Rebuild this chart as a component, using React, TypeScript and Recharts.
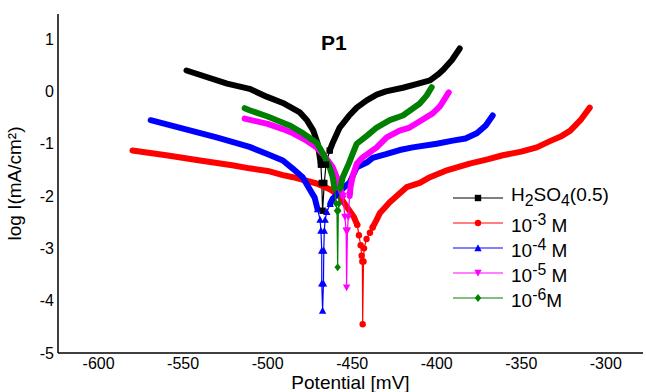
import React from 'react';
import { LineChart, Line, XAxis, YAxis } from 'recharts';

type Pt = { x: number; y: number };

// H2SO4 0.5 M blank
const blankCathodic: Pt[] = [
  { x: -548, y: 0.4 }, { x: -524, y: 0.15 }, { x: -510.7, y: 0.05 }, { x: -500.6, y: -0.1 },
  { x: -491, y: -0.22 }, { x: -481, y: -0.4 }, { x: -477, y: -0.54 }, { x: -473, y: -0.75 },
  { x: -470.4, y: -1.0 }, { x: -468.5, y: -1.4 },
];
const blankTip: Pt[] = [
  { x: -468.5, y: -1.4 }, { x: -468, y: -1.75 }, { x: -467.5, y: -2.28 }, { x: -466.5, y: -1.75 },
  { x: -465.5, y: -1.4 }, { x: -463.3, y: -1.13 },
];
const blankAnodic: Pt[] = [
  { x: -463.3, y: -1.13 }, { x: -461.5, y: -0.98 }, { x: -457.4, y: -0.69 }, { x: -452, y: -0.47 },
  { x: -447.3, y: -0.31 }, { x: -441.4, y: -0.17 }, { x: -435.5, y: -0.06 }, { x: -430, y: 0.0 },
  { x: -420, y: 0.07 }, { x: -412, y: 0.14 }, { x: -404, y: 0.21 }, { x: -399.4, y: 0.32 },
  { x: -396, y: 0.42 }, { x: -391, y: 0.6 }, { x: -386.4, y: 0.82 },
];

// 10^-3 M
const m3Cathodic: Pt[] = [
  { x: -580, y: -1.13 }, { x: -560, y: -1.22 }, { x: -540, y: -1.32 }, { x: -521, y: -1.41 },
  { x: -510.7, y: -1.47 }, { x: -500, y: -1.52 }, { x: -491, y: -1.6 }, { x: -485, y: -1.64 },
  { x: -471, y: -1.76 }, { x: -463.3, y: -1.87 }, { x: -458, y: -1.98 }, { x: -453.3, y: -2.2 },
  { x: -449, y: -2.4 }, { x: -447, y: -2.55 },
];
const m3Tip: Pt[] = [
  { x: -447, y: -2.55 }, { x: -446, y: -2.75 }, { x: -445, y: -2.94 }, { x: -444.4, y: -3.14 },
  { x: -444, y: -3.25 }, { x: -443.8, y: -4.45 }, { x: -443.3, y: -3.25 }, { x: -443, y: -3.0 },
  { x: -441.5, y: -2.82 }, { x: -439.5, y: -2.7 }, { x: -437.9, y: -2.6 },
];
const m3Anodic: Pt[] = [
  { x: -437.9, y: -2.6 }, { x: -435.5, y: -2.45 }, { x: -433.7, y: -2.33 }, { x: -427.8, y: -2.12 },
  { x: -422, y: -1.95 }, { x: -417.8, y: -1.83 }, { x: -410, y: -1.75 }, { x: -404, y: -1.64 },
  { x: -395, y: -1.52 }, { x: -388, y: -1.45 }, { x: -380.5, y: -1.38 }, { x: -370, y: -1.3 },
  { x: -360.9, y: -1.22 }, { x: -350, y: -1.15 }, { x: -340.8, y: -1.07 }, { x: -333, y: -0.95 },
  { x: -326, y: -0.85 }, { x: -321, y: -0.75 }, { x: -315, y: -0.55 }, { x: -309.5, y: -0.31 },
];

// 10^-4 M
const m4Cathodic: Pt[] = [
  { x: -569.2, y: -0.55 }, { x: -550, y: -0.71 }, { x: -530.2, y: -0.88 }, { x: -510.7, y: -1.06 },
  { x: -500.6, y: -1.19 }, { x: -491, y: -1.32 }, { x: -485, y: -1.48 }, { x: -479.3, y: -1.64 },
  { x: -475.5, y: -1.85 }, { x: -472.2, y: -2.03 }, { x: -470.5, y: -2.25 },
];
const m4Tip: Pt[] = [
  { x: -470.5, y: -2.25 }, { x: -469, y: -2.45 }, { x: -468.5, y: -2.66 }, { x: -468, y: -3.04 },
  { x: -468, y: -3.67 }, { x: -467.5, y: -4.19 }, { x: -467, y: -3.67 }, { x: -466.8, y: -3.04 },
  { x: -466.5, y: -2.66 }, { x: -466, y: -2.45 }, { x: -465, y: -2.3 }, { x: -463, y: -2.15 },
];
const m4Anodic: Pt[] = [
  { x: -463, y: -2.15 }, { x: -461.5, y: -2.05 }, { x: -457, y: -1.9 }, { x: -451.5, y: -1.74 },
  { x: -447.3, y: -1.45 }, { x: -441.4, y: -1.36 }, { x: -437.9, y: -1.27 }, { x: -430, y: -1.2 },
  { x: -421.9, y: -1.12 }, { x: -414.2, y: -1.07 }, { x: -400, y: -1.0 }, { x: -390.5, y: -0.94 },
  { x: -383, y: -0.9 }, { x: -376.3, y: -0.8 }, { x: -371, y: -0.65 }, { x: -366.9, y: -0.46 },
];

// 10^-5 M
const m5Cathodic: Pt[] = [
  { x: -513.6, y: -0.52 }, { x: -500, y: -0.62 }, { x: -491, y: -0.72 }, { x: -485, y: -0.8 },
  { x: -478, y: -0.92 }, { x: -471, y: -1.07 }, { x: -466, y: -1.25 }, { x: -461.5, y: -1.45 },
  { x: -459, y: -1.65 }, { x: -457.4, y: -1.83 }, { x: -455.5, y: -2.0 },
];
const m5Tip: Pt[] = [
  { x: -455.5, y: -2.0 }, { x: -454.3, y: -2.4 }, { x: -453.6, y: -2.66 }, { x: -453.3, y: -3.75 },
  { x: -452.8, y: -2.66 }, { x: -452.3, y: -2.4 }, { x: -451.5, y: -2.0 },
];
const m5Anodic: Pt[] = [
  { x: -451.5, y: -2.0 }, { x: -451, y: -1.83 }, { x: -449.7, y: -1.62 }, { x: -447.3, y: -1.38 },
  { x: -443.8, y: -1.26 }, { x: -435.5, y: -1.07 }, { x: -429.6, y: -0.88 }, { x: -422, y: -0.75 },
  { x: -416, y: -0.69 }, { x: -409, y: -0.55 }, { x: -402.4, y: -0.42 }, { x: -398, y: -0.28 },
  { x: -392.9, y: -0.02 },
];

// 10^-6 M
const m6Cathodic: Pt[] = [
  { x: -513.6, y: -0.32 }, { x: -510.7, y: -0.36 }, { x: -500, y: -0.48 }, { x: -487, y: -0.65 },
  { x: -480, y: -0.78 }, { x: -471, y: -0.98 }, { x: -467, y: -1.2 }, { x: -463.3, y: -1.45 },
  { x: -461.5, y: -1.64 }, { x: -460.5, y: -1.85 },
];
const m6Tip: Pt[] = [
  { x: -460.5, y: -1.85 }, { x: -459.5, y: -2.14 }, { x: -459, y: -2.28 }, { x: -458.6, y: -3.36 },
  { x: -458.2, y: -2.28 }, { x: -457.8, y: -2.14 }, { x: -457, y: -1.85 },
];
const m6Anodic: Pt[] = [
  { x: -457, y: -1.85 }, { x: -455.6, y: -1.64 }, { x: -452, y: -1.38 }, { x: -449.7, y: -1.19 },
  { x: -447.3, y: -1.0 }, { x: -441, y: -0.84 }, { x: -435.5, y: -0.69 }, { x: -427.8, y: -0.55 },
  { x: -420, y: -0.46 }, { x: -410, y: -0.23 }, { x: -406, y: -0.08 }, { x: -403, y: 0.08 },
];

const xTicks = [-600, -550, -500, -450, -400, -350, -300];
const yTicks = [-5, -4, -3, -2, -1, 0, 1];

const FONT = '"Liberation Sans", Arial, sans-serif';

const SERIES = [
  { key: 'blank', color: '#000000', shape: 'square', cathodic: blankCathodic, tip: blankTip, anodic: blankAnodic },
  { key: 'm3', color: '#ff0000', shape: 'circle', cathodic: m3Cathodic, tip: m3Tip, anodic: m3Anodic },
  { key: 'm4', color: '#0000ff', shape: 'up', cathodic: m4Cathodic, tip: m4Tip, anodic: m4Anodic },
  { key: 'm5', color: '#ff00ff', shape: 'down', cathodic: m5Cathodic, tip: m5Tip, anodic: m5Anodic },
  { key: 'm6', color: '#008000', shape: 'diamond', cathodic: m6Cathodic, tip: m6Tip, anodic: m6Anodic },
];

function Marker({ cx, cy, shape, color, r = 3.2 }: any) {
  if (cx == null || cy == null) return null;
  if (shape === 'square')
    return <rect x={cx - r} y={cy - r} width={r * 2} height={r * 2} fill={color} />;
  if (shape === 'circle') return <circle cx={cx} cy={cy} r={r} fill={color} />;
  if (shape === 'up')
    return <polygon points={`${cx},${cy - r - 0.5} ${cx + r + 0.5},${cy + r} ${cx - r - 0.5},${cy + r}`} fill={color} />;
  if (shape === 'down')
    return <polygon points={`${cx},${cy + r + 0.5} ${cx + r + 0.5},${cy - r} ${cx - r - 0.5},${cy - r}`} fill={color} />;
  return <polygon points={`${cx},${cy - r - 0.8} ${cx + r},${cy} ${cx},${cy + r + 0.8} ${cx - r},${cy}`} fill={color} />;
}

const legendRows = [
  { shape: 'square', color: '#000000', label: <>H<sub>2</sub>SO<sub>4</sub>(0.5)</> },
  { shape: 'circle', color: '#ff0000', label: <>10<sup>-3</sup> M</> },
  { shape: 'up', color: '#0000ff', label: <>10<sup>-4</sup> M</> },
  { shape: 'down', color: '#ff00ff', label: <>10<sup>-5</sup> M</> },
  { shape: 'diamond', color: '#008000', label: <>10<sup>-6</sup>M</> },
];

export default function App() {
  return (
    <div style={{ position: 'fixed', left: 0, top: 0, width: 646, height: 392, background: '#fff', fontFamily: FONT }}>
      <LineChart width={646} height={392} margin={{ top: 14, right: 3, left: 0, bottom: 0 }}>
        <XAxis
          type="number"
          dataKey="x"
          domain={[-624, -278]}
          allowDataOverflow
          ticks={xTicks}
          tickLine={false}
          tickSize={0}
          tickMargin={5}
          height={39}
          axisLine={{ stroke: '#000', strokeWidth: 1.5 }}
          tick={{ fill: '#000', fontSize: 16, fontFamily: FONT }}
          label={{ value: 'Potential [mV]', position: 'insideBottom', offset: 3, fill: '#000', fontSize: 19, fontFamily: FONT }}
        />
        <YAxis
          type="number"
          dataKey="y"
          domain={[-5, 1.48]}
          allowDataOverflow
          ticks={yTicks}
          tickLine={false}
          tickSize={0}
          tickMargin={4}
          width={58}
          axisLine={{ stroke: '#000', strokeWidth: 1.5 }}
          tick={{ fill: '#000', fontSize: 16, fontFamily: FONT }}
          label={{
            value: 'log I(mA/cm²)',
            angle: -90,
            position: 'insideLeft',
            offset: 14,
            fill: '#000',
            fontSize: 19,
            fontFamily: FONT,
            style: { textAnchor: 'middle' },
          }}
        />
        {SERIES.flatMap((s) => [
          <Line
            key={`${s.key}-c`}
            data={s.cathodic}
            dataKey="y"
            type="linear"
            stroke={s.color}
            strokeWidth={6}
            strokeLinecap="round"
            strokeLinejoin="round"
            dot={false}
            activeDot={false}
            isAnimationActive={false}
          />,
          <Line
            key={`${s.key}-t`}
            data={s.tip}
            dataKey="y"
            type="linear"
            stroke={s.color}
            strokeWidth={1.2}
            dot={(p: any) => <Marker key={`${s.key}-d-${p.index}`} cx={p.cx} cy={p.cy} shape={s.shape} color={s.color} />}
            activeDot={false}
            isAnimationActive={false}
          />,
          <Line
            key={`${s.key}-a`}
            data={s.anodic}
            dataKey="y"
            type="linear"
            stroke={s.color}
            strokeWidth={6}
            strokeLinecap="round"
            strokeLinejoin="round"
            dot={false}
            activeDot={false}
            isAnimationActive={false}
          />,
        ])}
      </LineChart>
      <div style={{ position: 'absolute', left: 321, top: 31, fontSize: 21, fontWeight: 'bold', color: '#000' }}>P1</div>
      <div style={{ position: 'absolute', left: 452, top: 185 }}>
        {legendRows.map((r, i) => (
          <div key={i} style={{ display: 'flex', alignItems: 'center', height: 25, fontSize: 19, color: '#000', lineHeight: '25px' }}>
            <svg width={52} height={12} style={{ marginRight: 7 }}>
              <line x1={1} y1={6} x2={51} y2={6} stroke={r.color} strokeWidth={1.2} />
              <Marker cx={26} cy={6} shape={r.shape} color={r.color} />
            </svg>
            <span style={{ whiteSpace: 'nowrap' }}>{r.label}</span>
          </div>
        ))}
      </div>
    </div>
  );
}
